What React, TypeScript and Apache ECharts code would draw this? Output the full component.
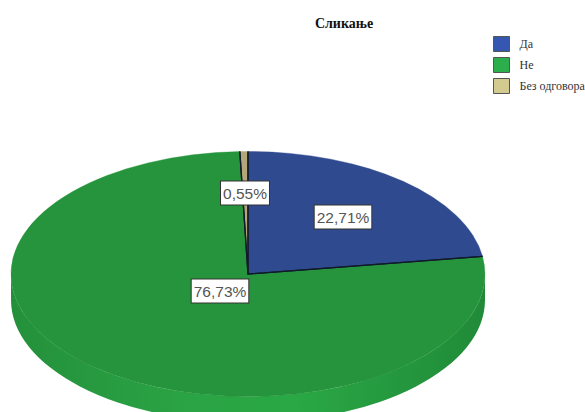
import React, { useEffect, useRef } from "react";
import * as echarts from "echarts";

const categories = ["Да", "Не", "Без одговора"];
const percentages = [22.71, 76.73, 0.55];
const titleText = "Сликање";

const faceColors = ["#2f4a8f", "#26943c", "#b3a678"];
const legendColors = ["#3557b2", "#2bae4b", "#d3ca90"];

const PIE = { cx: 248, cy: 274, rx: 237, ry: 122.5, depth: 26 };
const LABEL_CENTERS = [
  [343, 217],
  [220, 291],
  [245, 193],
];

const total = percentages.reduce((a, b) => a + b, 0);

function sliceAngles(index: number) {
  const before = percentages.slice(0, index).reduce((a, b) => a + b, 0);
  const start = -Math.PI / 2 + (before / total) * Math.PI * 2;
  const end = start + (percentages[index] / total) * Math.PI * 2;
  return { start, end };
}

function rimPoint(angle: number) {
  const { cx, cy, rx, ry } = PIE;
  return [cx + rx * Math.cos(angle), cy + ry * Math.sin(angle)];
}

function sideItem() {
  const { cx, cy, rx, ry, depth } = PIE;
  const pathData =
    `M ${cx - rx} ${cy} A ${rx} ${ry} 0 0 0 ${cx + rx} ${cy} ` +
    `L ${cx + rx} ${cy + depth} A ${rx} ${ry} 0 0 1 ${cx - rx} ${cy + depth} Z`;
  return {
    type: "path",
    shape: {
      pathData,
      x: cx - rx,
      y: cy,
      width: 2 * rx,
      height: ry + depth,
      layout: "cover",
    },
    style: {
      fill: new echarts.graphic.LinearGradient(0, 0, 1, 0, [
        { offset: 0, color: "#24903b" },
        { offset: 0.35, color: "#2aa344" },
        { offset: 0.6, color: "#2aa845" },
        { offset: 1, color: "#208a38" },
      ]),
      stroke: "none",
    },
  };
}

function sliceItem(index: number) {
  const { cx, cy, rx, ry } = PIE;
  const { start, end } = sliceAngles(index);
  const [lx, ly] = LABEL_CENTERS[index];
  return {
    type: "group",
    children: [
      {
        type: "group",
        x: cx,
        y: cy,
        scaleY: ry / rx,
        children: [
          {
            type: "sector",
            shape: { cx: 0, cy: 0, r0: 0, r: rx, startAngle: start, endAngle: end, clockwise: true },
            style: { fill: faceColors[index], stroke: faceColors[index], lineWidth: 0.5 },
          },
        ],
      },
      {
        type: "polyline",
        z2: 50,
        shape: { points: [rimPoint(start), [cx, cy], rimPoint(end)] },
        style: { fill: "none", stroke: "#101a2c", lineWidth: 1.3 },
      },
      {
        type: "text",
        x: lx,
        y: ly,
        z2: 100,
        style: {
          text: percentages[index].toFixed(2).replace(".", ",") + "%",
          fontFamily: "Liberation Sans, Arial, sans-serif",
          fontSize: 15.5,
          fill: "#555555",
          align: "center",
          verticalAlign: "middle",
          backgroundColor: "#ffffff",
          borderColor: "#333333",
          borderWidth: 1,
          padding: [4, 2, 3, 2],
        },
      },
    ],
  };
}

export default function App() {
  const ref = useRef<HTMLDivElement>(null);

  useEffect(() => {
    document.body.style.margin = "0";
    const chart = echarts.init(ref.current!, null, { renderer: "svg" });
    chart.setOption({
      animation: false,
      backgroundColor: "#ffffff",
      title: {
        text: titleText,
        left: 339,
        top: 11,
        textAlign: "center",
        textStyle: {
          fontFamily: "Liberation Serif, serif",
          fontSize: 14,
          fontWeight: "bold",
          color: "#111111",
        },
      },
      legend: {
        orient: "vertical",
        left: 488,
        top: 31,
        itemWidth: 16,
        itemHeight: 15,
        itemGap: 5,
        icon: "rect",
        selectedMode: false,
        textStyle: {
          fontFamily: "Liberation Serif, serif",
          fontSize: 12,
          color: "#333333",
          padding: [0, 0, 0, 5],
        },
        data: categories.map((name, i) => ({
          name,
          itemStyle: { color: legendColors[i], borderColor: "#555555", borderWidth: 1 },
        })),
      },
      series: [
        {
          type: "custom",
          name: "side",
          coordinateSystem: "none",
          silent: true,
          data: [[percentages[1]]],
          renderItem: () => sideItem(),
        },
        ...categories.map((name, i) => ({
          type: "custom",
          name,
          coordinateSystem: "none",
          silent: true,
          itemStyle: { color: legendColors[i] },
          data: [[percentages[i]]],
          renderItem: () => sliceItem(i),
        })),
      ],
    });
    return () => chart.dispose();
  }, []);

  return (
    <div
      ref={ref}
      style={{ position: "absolute", left: 0, top: 0, width: 585, height: 412 }}
    />
  );
}
